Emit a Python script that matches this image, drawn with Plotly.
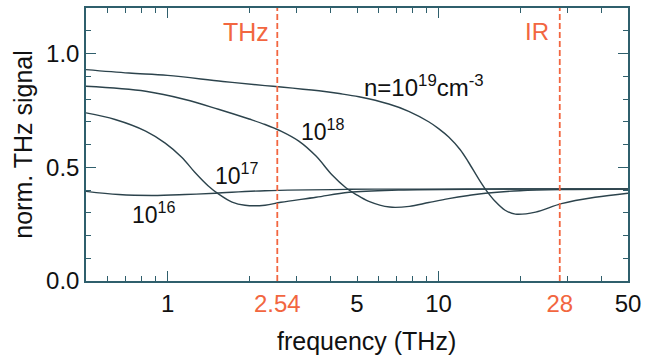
import plotly.graph_objects as go

# ---- data ----
freq_19 = [0.5, 0.72, 1.0, 1.6, 2.29, 2.62, 3.62, 4.3, 5.08, 6.55, 7.76, 9.19, 10.0, 10.9, 12.0, 12.9, 14.0, 14.9, 16.2, 17.6, 19.2, 22.8, 28.4, 37.8, 50]
sig_19 = [0.929, 0.914, 0.904, 0.877, 0.859, 0.853, 0.836, 0.824, 0.810, 0.778, 0.746, 0.700, 0.670, 0.633, 0.578, 0.522, 0.452, 0.403, 0.349, 0.311, 0.294, 0.303, 0.340, 0.368, 0.386]

freq_18 = [0.5, 0.83, 1.16, 1.54, 2.0, 2.29, 2.62, 3.05, 3.53, 4.04, 4.55, 4.95, 5.53, 6.6, 7.8, 9.2, 10.9, 12.9, 14.9, 20, 30, 50]
sig_18 = [0.856, 0.834, 0.798, 0.755, 0.712, 0.688, 0.659, 0.615, 0.549, 0.467, 0.410, 0.381, 0.350, 0.325, 0.328, 0.345, 0.362, 0.376, 0.386, 0.397, 0.402, 0.404]

freq_17 = [0.5, 0.64, 0.83, 0.98, 1.13, 1.26, 1.41, 1.54, 1.73, 1.93, 2.29, 2.62, 3.53, 4.67, 7.1, 15, 50]
sig_17 = [0.739, 0.710, 0.659, 0.606, 0.543, 0.478, 0.419, 0.383, 0.347, 0.333, 0.333, 0.346, 0.368, 0.390, 0.400, 0.404, 0.405]

freq_16 = [0.5, 0.66, 0.88, 1.16, 1.5, 2.29, 4.67, 10, 50]
sig_16 = [0.394, 0.380, 0.376, 0.380, 0.386, 0.397, 0.403, 0.404, 0.405]

band_edges = [2.54, 28]
band_names = ["THz", "IR"]
label_vals = [1, 2.54, 5, 10, 28, 50]
label_text = ["1", "2.54", "5", "10", "28", "50"]
y_major = [0.0, 0.5, 1.0]

CURVE = "#2c434c"
AXIS = "#2f5f6c"
ORANGE = "#f26640"
FONT = "Liberation Sans, Arial, Helvetica, sans-serif"

fig = go.Figure()
for fx, sy in [(freq_19, sig_19), (freq_18, sig_18), (freq_17, sig_17), (freq_16, sig_16)]:
    fig.add_trace(go.Scatter(x=fx, y=sy, mode="lines", line=dict(color=CURVE, width=1.4, shape="spline", smoothing=1.0),
                             showlegend=False, hoverinfo="skip"))

# empty trace so the label axis exists
fig.add_trace(go.Scatter(x=[], y=[], xaxis="x2", showlegend=False))

for xv in band_edges:
    fig.add_shape(type="line", x0=xv, x1=xv, y0=0, y1=1, xref="x", yref="paper",
                  line=dict(color=ORANGE, width=1.8, dash="6px,3px"))

ticktext = []
for v, t in zip(label_vals, label_text):
    if v in band_edges:
        ticktext.append(f'<span style="color:{ORANGE}">{t}</span>')
    else:
        ticktext.append(t)

xr = [-0.30103, 1.69897]
fig.update_layout(
    width=647, height=360,
    margin=dict(l=86, r=17, t=6, b=79),
    paper_bgcolor="white", plot_bgcolor="white",
    font=dict(family=FONT, size=24, color="#111"),
    xaxis=dict(type="log", range=xr, showgrid=False, zeroline=False,
               showline=True, linecolor=AXIS, linewidth=1.5, mirror="ticks",
               ticks="inside", ticklen=10, tickwidth=1.3, tickcolor=AXIS,
               tickmode="array", tickvals=[1, 10], showticklabels=False,
               minor=dict(ticks="inside", ticklen=5, tickwidth=1.3, tickcolor=AXIS, tickmode="array",
                          tickvals=[0.6, 0.7, 0.8, 0.9, 2, 3, 4, 5, 6, 7, 8, 9, 20, 30, 40])),
    xaxis2=dict(type="log", range=xr, overlaying="x", anchor="y", side="bottom",
                showgrid=False, zeroline=False, showline=False, ticks="",
                tickmode="array", tickvals=label_vals, ticktext=ticktext,
                ticklabelstandoff=6, tickfont=dict(size=24, color="#111")),
    yaxis=dict(range=[0, 1.2], showgrid=False, zeroline=False,
               showline=True, linecolor=AXIS, linewidth=1.5, mirror="ticks",
               ticks="inside", ticklen=10, tickwidth=1.3, tickcolor=AXIS,
               tickmode="array", tickvals=y_major, ticktext=["0.0", "0.5", "1.0"],
               tickfont=dict(size=24),
               minor=dict(ticks="inside", ticklen=5, tickwidth=1.3, tickcolor=AXIS, tickmode="array",
                          tickvals=[0.1, 0.2, 0.3, 0.4, 0.6, 0.7, 0.8, 0.9, 1.1]),
               title=dict(text="norm. THz signal", font=dict(size=25), standoff=6)),
)

# x-axis title
fig.add_annotation(text="frequency (THz)", xref="paper", yref="paper", x=(368 - 86) / 544, y=-(341 - 281) / 275,
                   xanchor="center", yanchor="middle", showarrow=False, font=dict(size=25))

# band names
fig.add_annotation(text=band_names[0], x=0.3816, y=1.096, xref="x", yref="y", xanchor="right", yanchor="middle",
                   showarrow=False, font=dict(size=25, color=ORANGE))
fig.add_annotation(text=band_names[1], x=1.4159, y=1.096, xref="x", yref="y", xanchor="right", yanchor="middle",
                   showarrow=False, font=dict(size=24, color=ORANGE))

# density labels
fig.add_annotation(text="n=10<sup>19</sup>cm<sup>-3</sup>", x=0.7166, y=0.855, xanchor="left", yanchor="middle",
                   showarrow=False, font=dict(size=24))
fig.add_annotation(text="10<sup>18</sup>", x=0.4847, y=0.665, xanchor="left", yanchor="middle",
                   showarrow=False, font=dict(size=23))
fig.add_annotation(text="10<sup>17</sup>", x=0.1686, y=0.472, xanchor="left", yanchor="middle",
                   showarrow=False, font=dict(size=23))
fig.add_annotation(text="10<sup>16</sup>", x=-0.137, y=0.297, xanchor="left", yanchor="middle",
                   showarrow=False, font=dict(size=23))

fig.write_html("out.html")
